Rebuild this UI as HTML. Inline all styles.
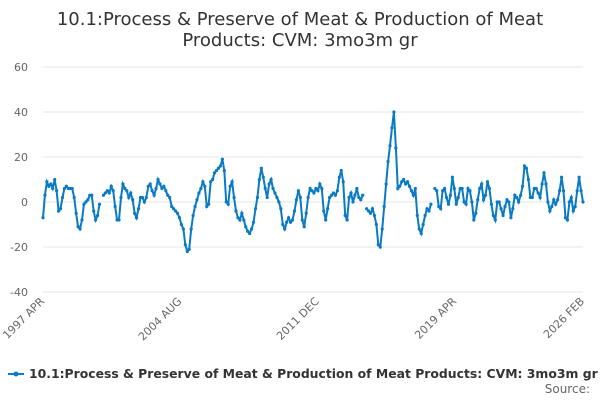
<!DOCTYPE html>
<html><head><meta charset="utf-8"><style>
body{margin:0;background:#fff;font-family:"DejaVu Sans",sans-serif}
svg text{font-family:"DejaVu Sans",sans-serif}
</style></head><body>
<svg id="c" width="600" height="400">
<text x="300" y="25" text-anchor="middle" font-size="18" fill="#333"><tspan x="300">10.1:Process &amp; Preserve of Meat &amp; Production of Meat</tspan><tspan x="300" dy="21">Products: CVM: 3mo3m gr</tspan></text>
<g id="grid"></g><g id="xl"></g><path id="ln" fill="none" stroke="#0a7ac4" stroke-width="2"/><g id="pts"></g>
<g><line x1="8" y1="374" x2="24" y2="374" stroke="#0a7ac4" stroke-width="2"/><circle cx="16" cy="374" r="2.5" fill="#0a7ac4"/><text x="29" y="378" font-size="12.4" font-weight="bold" fill="#333">10.1:Process &amp; Preserve of Meat &amp; Production of Meat Products: CVM: 3mo3m gr</text></g>
<text x="590" y="393" text-anchor="end" font-size="12" fill="#666">Source:</text>
</svg>
<script>
const yTicks=[60,40,20,0,-20,-40];
const xLabels=["1997 APR","2004 AUG","2011 DEC","2019 APR","2026 FEB"];
const xLabelIdx=[0,88,176,264,346];
const values=[-7,3,9,7,8,6,10,5,-4,-3,2,6,7,6,6,6,2,-5,-11,-12,-8,-1,0,1,3,3,-4,-8,-6,-1,null,3,4,5,4,7,5,-2,-8,-8,2,8,6,5,2,4,1,-5,-7,-3,2,2,0,2,7,8,5,3,6,10,8,6,7,5,3,2,-2,-3,-4,-5,-7,-10,-12,-19,-22,-21,-12,-6,-2,1,4,6,9,7,-2,-1,9,10,13,14,15,16,19,14,0,-1,7,9,2,-4,-7,-8,-5,-8,-11,-13,-14,-12,-9,-3,2,10,15,11,6,2,8,10,6,4,2,0,-3,-10,-12,-9,-7,-9,-8,-4,1,5,2,-8,-11,-5,2,6,5,4,6,5,8,6,-4,-8,-3,2,3,4,3,5,11,14,9,-6,-8,2,4,0,3,6,2,1,3,null,-3,-4,-5,-3,-6,-10,-19,-20,-12,-2,8,18,25,33,40,24,6,7,9,10,8,9,7,5,3,6,-6,-12,-14,-10,-6,-3,-4,-1,null,6,5,-2,-3,5,6,2,-1,3,11,6,-1,2,6,6,0,-1,6,5,0,-8,-5,1,6,8,1,3,9,6,-1,-6,-8,0,0,-3,-6,-2,1,0,-7,-3,3,2,0,3,7,16,15,10,2,2,6,6,4,2,8,13,8,0,-4,-2,1,-1,1,5,11,5,-7,-8,0,2,-4,-2,5,11,5,0];
const X0=43,X1=583,NM=346,Y0=202,PPU=2.25;
const yS=v=>Y0-v*PPU, xM=m=>X0+m*(X1-X0)/NM;
const NS="http://www.w3.org/2000/svg";
const g=document.getElementById('grid');
yTicks.forEach(t=>{const l=document.createElementNS(NS,'line');


l.setAttribute('x1',X0);l.setAttribute('x2',X1);l.setAttribute('y1',yS(t));l.setAttribute('y2',yS(t));l.setAttribute('stroke','#e6e6e6');g.appendChild(l);
const tx=document.createElementNS(NS,'text');


tx.setAttribute('x',28);tx.setAttribute('y',yS(t)+4);tx.setAttribute('text-anchor','end');tx.setAttribute('font-size','11');tx.setAttribute('fill','#666');tx.textContent=t;g.appendChild(tx);});
const xl=document.getElementById('xl');
xLabels.forEach((s,i)=>{const x=xM(xLabelIdx[i]);const tx=document.createElementNS(NS,'text');


tx.setAttribute('transform',`translate(${x+2},${302}) rotate(-45)`);tx.setAttribute('text-anchor','end');tx.setAttribute('font-size','11');tx.setAttribute('fill','#666');tx.textContent=s;xl.appendChild(tx);});
const n=values.length;let d='',pen=false;const pts=document.getElementById('pts');
values.forEach((v,i)=>{if(v===null){pen=false;return;}const x=xM(i*NM/(n-1)),y=yS(v);d+=(pen?'L':'M')+x.toFixed(1)+' '+y.toFixed(1);pen=true;
const c=document.createElementNS(NS,'circle');


c.setAttribute('cx',x);c.setAttribute('cy',y);c.setAttribute('r',1.6);c.setAttribute('fill','#0a7ac4');pts.appendChild(c);});
document.getElementById('ln').setAttribute('d',d);
</script>
</body></html>
